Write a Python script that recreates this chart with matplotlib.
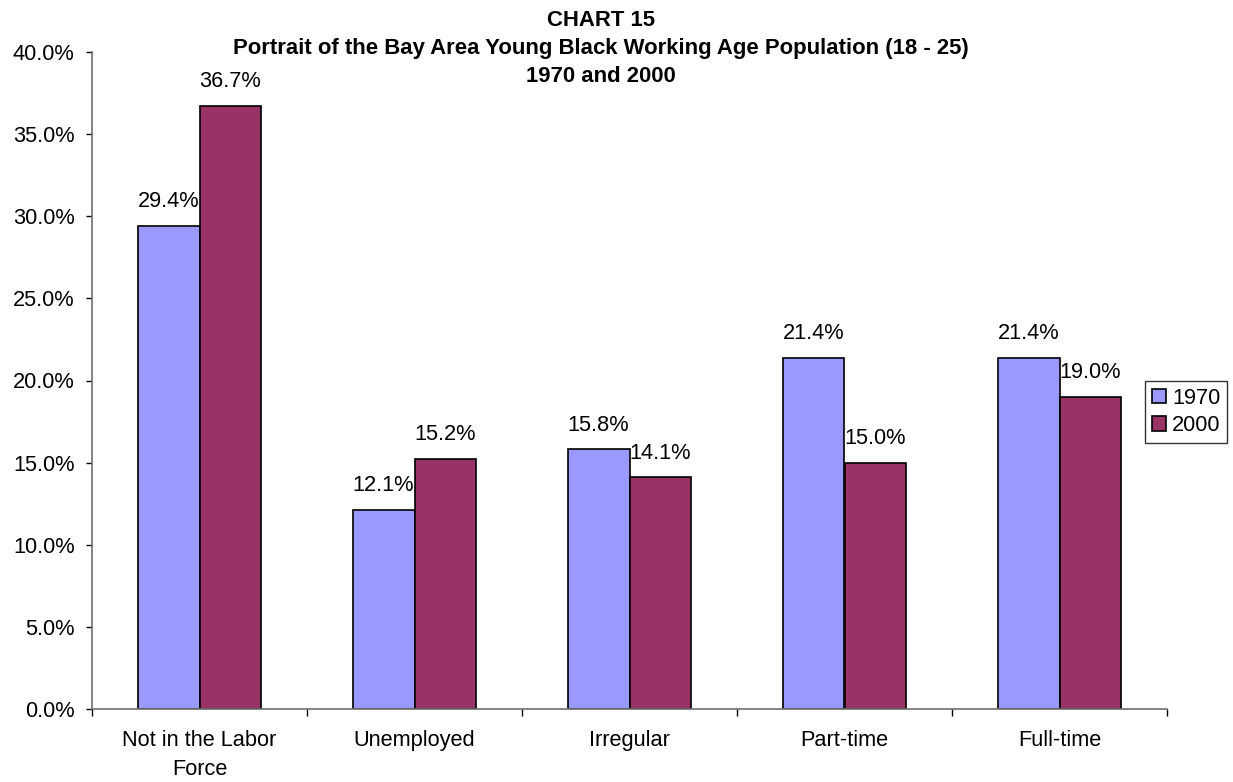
import numpy as np
import matplotlib
matplotlib.use("Agg")
import matplotlib.pyplot as plt
from matplotlib.ticker import FixedLocator, PercentFormatter

# Chart data
categories = ["Not in the Labor\nForce", "Unemployed", "Irregular", "Part-time", "Full-time"]
vals_1970 = [29.4, 12.1, 15.8, 21.4, 21.4]
vals_2000 = [36.7, 15.2, 14.1, 15.0, 19.0]
series_names = ["1970", "2000"]
title_lines = ["CHART 15",
               "Portrait of the Bay Area Young Black Working Age Population (18 - 25)",
               "1970 and 2000"]

plt.rcParams["font.family"] = ["Liberation Sans", "DejaVu Sans"]
FS = 15.7

W, H = 1233, 782
fig = plt.figure(figsize=(W / 100, H / 100), dpi=100)
ax = fig.add_axes([92 / W, 1 - 709 / H, (1167 - 92) / W, (709 - 52) / H])

x = np.arange(len(categories))
w = 0.288
b1 = ax.bar(x - w / 2, vals_1970, w, color="#9999FF", edgecolor="black", linewidth=1.2, label=series_names[0])
b2 = ax.bar(x + w / 2, vals_2000, w, color="#993366", edgecolor="black", linewidth=1.2, label=series_names[1])

for bars, vals in [(b1, vals_1970), (b2, vals_2000)]:
    for r, v in zip(bars, vals):
        ax.annotate("%.1f%%" % v, (r.get_x() + r.get_width() / 2, v),
                    xytext=(0, 10), textcoords="offset points",
                    ha="center", va="bottom", fontsize=FS)

ax.set_xlim(-0.5, len(categories) - 0.5)
ax.set_ylim(0, 40)
ax.set_yticks(np.arange(0, 40.1, 5))
ax.yaxis.set_major_formatter(PercentFormatter(decimals=1))
ax.set_xticks(x)
ax.set_xticklabels(categories, fontsize=FS, linespacing=1.5)
ax.xaxis.set_minor_locator(FixedLocator(np.arange(-0.5, len(categories), 1.0)))
ax.tick_params(axis="x", which="major", length=0, pad=15)
ax.tick_params(axis="x", which="minor", length=5, width=1)
ax.tick_params(axis="y", length=4.5, width=1, pad=8, labelsize=FS)

for s in ["top", "right"]:
    ax.spines[s].set_visible(False)
for s in ["left", "bottom"]:
    ax.spines[s].set_linewidth(1.2)
    ax.spines[s].set_color("#6f6f6f")

# title, three bold lines centered on the chart area
for yb, line in zip([26, 54, 82], title_lines):
    fig.text(601 / W, 1 - yb / H, line, ha="center", va="baseline",
             fontsize=15.9, fontweight="bold")

leg = fig.legend(loc="upper left", bbox_to_anchor=(1145 / W, 1 - 381 / H), fontsize=FS,
                 frameon=True, fancybox=False, edgecolor="black",
                 handlelength=0.65, handleheight=0.65, handletextpad=0.3,
                 borderpad=0.3, labelspacing=0.3, borderaxespad=0)
leg.get_frame().set_linewidth(1)

fig.savefig("out.png", dpi=100)
